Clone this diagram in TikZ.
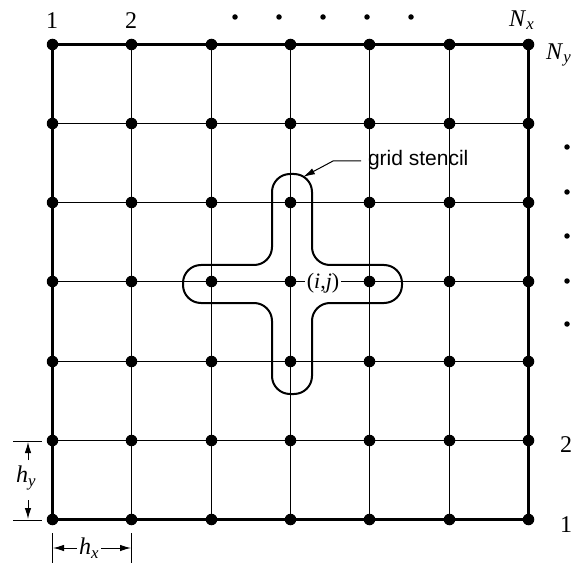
\documentclass[tikz,border=0pt]{standalone}
\usepackage{fontspec}
\setmainfont{Liberation Serif}
\newfontfamily\labelsans{Liberation Sans}
\usetikzlibrary{arrows.meta}
\begin{document}
\begin{tikzpicture}[x=1pt,y=-1pt,
  gridline/.style={line width=1.1pt},
  border/.style={line width=2.6pt},
  gdot/.style={circle,fill,inner sep=0pt,minimum size=11.5pt},
  sdot/.style={circle,fill,inner sep=0pt,minimum size=5.5pt},
  lbl/.style={font=\fontsize{24}{24}\selectfont,inner sep=0pt},
  stencilline/.style={line width=2pt,rounded corners=18pt},
  ext/.style={line width=1pt},
  dimarrow/.style={-{Latex[length=11pt,width=6.5pt]},line width=1pt},
  leader/.style={-{Latex[length=12pt,width=6.5pt]},line width=1pt}]
\useasboundingbox (0,0) rectangle (579,567);
% grid coordinates
\foreach \x [count=\i] in {52.5,131.5,211.5,290.5,369.5,449.5,528.5}{
  \foreach \y [count=\j] in {519.5,440.5,361.5,281.5,202.5,123.5,44.5}{
    \coordinate (c-\i-\j) at (\x,\y);
  }
}
% inner grid lines
\foreach \k in {2,...,6}{
  \draw[gridline] (c-\k-1) -- (c-\k-7);
  \draw[gridline] (c-1-\k) -- (c-7-\k);
}
% border
\draw[border] (c-1-1) rectangle (c-7-7);
% stencil
\draw[stencilline] (312,220) -- (312,265) -- (402,265) -- (402,303)
  -- (312,303) -- (312,394) -- (272,394) -- (272,303) -- (183,303) -- (183,265)
  -- (272,265) -- (272,174) -- (312,174) -- cycle;
% (i,j) label
\node[fill=white,inner sep=1.5pt,font=\fontsize{22}{22}\selectfont] (ij) at (323,283) {(\textit{i},\textit{j})};
% grid dots
\foreach \i in {1,...,7}{
  \foreach \j in {1,...,7}{
    \node[gdot] (d-\i-\j) at (c-\i-\j) {};
  }
}
% top labels
\node[lbl] (tx1) at (52,21) {1};
\node[lbl] (tx2) at (131,21) {2};
\foreach \x [count=\n] in {235,279,323,367,411}{
  \node[sdot] (tdot\n) at (\x,17) {};
}
\node[lbl,anchor=south west] (nx) at (509,30) {\textit{N}\textsubscript{\textit{x}}};
% right labels
\node[lbl,anchor=west] (ny) at (546,55) {\textit{N}\textsubscript{\textit{y}}};
\foreach \y [count=\n] in {147,192,236,281,324}{
  \node[sdot] (rdot\n) at (567,\y) {};
}
\node[lbl] (ry2) at (566,445) {2};
\node[lbl] (ry1) at (566,525) {1};
% grid stencil leader
\node[font=\labelsans\fontsize{21}{21}\selectfont,anchor=west,inner sep=0pt,outer sep=0pt] (gs) at (368,160) {grid stencil};
\coordinate (gsa) at (361,161);
\coordinate (gsb) at (333,161);
\coordinate (st) at (303,177);
\draw[leader] (gsa) -- (gsb) -- (st);
% h_y dimension
\coordinate (ey1a) at (13,441);
\coordinate (ey1b) at (42,441);
\coordinate (ey2a) at (13,520);
\coordinate (ey2b) at (42,520);
\draw[ext] (ey1a) -- (ey1b);
\draw[ext] (ey2a) -- (ey2b);
\node[lbl] (hy) at (26,478) {\textit{h}\textsubscript{\textit{y}}};
\coordinate (hyt) at (28,442);
\coordinate (hyb) at (28,519);
\draw[dimarrow] (28,460) -- (hyt);
\draw[dimarrow] (28,500) -- (hyb);
% h_x dimension
\coordinate (ex1a) at (52.5,533);
\coordinate (ex1b) at (52.5,563);
\coordinate (ex2a) at (131.5,533);
\coordinate (ex2b) at (131.5,563);
\draw[ext] (ex1a) -- (ex1b);
\draw[ext] (ex2a) -- (ex2b);
\node[lbl] (hx) at (89,548) {\textit{h}\textsubscript{\textit{x}}};
\coordinate (hxl) at (53,548);
\coordinate (hxr) at (131,548);
\draw[dimarrow] (hx.west) ++(-2,0) -- (hxl);
\draw[dimarrow] (hx.east) ++(2,0) -- (hxr);
\end{tikzpicture}
\end{document}
